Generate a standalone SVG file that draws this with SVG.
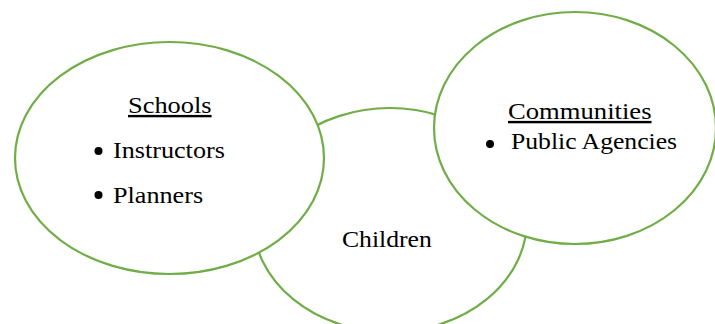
<svg xmlns="http://www.w3.org/2000/svg" width="715" height="324" viewBox="0 0 715 324">
<style>
.node{fill:#ffffff;stroke:#70AD47;stroke-width:2.2}
.b{fill:#000}
</style>
<rect width="715" height="324" fill="#ffffff"/>
<g id="children">
<ellipse class="node" cx="390" cy="220" rx="137" ry="112"/>
<text style="font-family:'Liberation Serif','Times New Roman',serif;font-size:24px" transform="translate(342 247) scale(1.07 1)">Children</text>
</g>
<g id="schools">
<ellipse class="node" cx="169.5" cy="158" rx="154.5" ry="116"/>
<text style="font-family:'Liberation Serif','Times New Roman',serif;font-size:24px;text-decoration:underline" transform="translate(128 113) scale(1.1 1)">Schools</text>
<circle class="b" cx="98.5" cy="151" r="4"/>
<text style="font-family:'Liberation Serif','Times New Roman',serif;font-size:24px" transform="translate(113 158) scale(1.09 1)">Instructors</text>
<circle class="b" cx="98.5" cy="195" r="4"/>
<text style="font-family:'Liberation Serif','Times New Roman',serif;font-size:24px" transform="translate(113 203) scale(1.09 1)">Planners</text>
</g>
<g id="communities">
<ellipse class="node" cx="575" cy="128" rx="141" ry="116"/>
<text style="font-family:'Liberation Serif','Times New Roman',serif;font-size:24px;text-decoration:underline" transform="translate(508 119) scale(1.11 1)">Communities</text>
<circle class="b" cx="490" cy="144" r="4"/>
<text style="font-family:'Liberation Serif','Times New Roman',serif;font-size:24px" transform="translate(511 149) scale(1.07 1)">Public Agencies</text>
</g>
<g id="connectors"></g>
</svg>
